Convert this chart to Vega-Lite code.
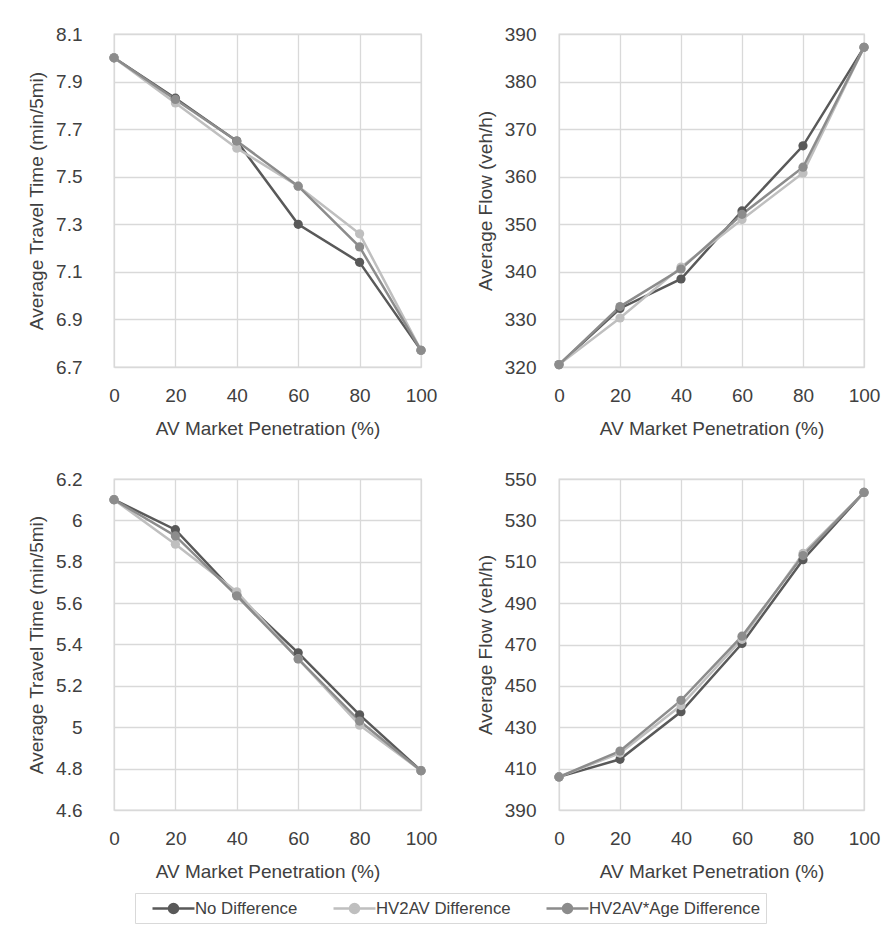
{
  "$schema": "https://vega.github.io/schema/vega-lite/v6.json",
  "background": "white",
  "padding": {"left": 26, "top": 24, "right": 0, "bottom": 0},
  "spacing": 30,
  "data": {
    "values": [
      {"p": "A", "s": "No Difference", "x": 0, "y": 8.0},
      {"p": "A", "s": "No Difference", "x": 20, "y": 7.83},
      {"p": "A", "s": "No Difference", "x": 40, "y": 7.65},
      {"p": "A", "s": "No Difference", "x": 60, "y": 7.3},
      {"p": "A", "s": "No Difference", "x": 80, "y": 7.14},
      {"p": "A", "s": "No Difference", "x": 100, "y": 6.77},
      {"p": "A", "s": "HV2AV Difference", "x": 0, "y": 8.0},
      {"p": "A", "s": "HV2AV Difference", "x": 20, "y": 7.81},
      {"p": "A", "s": "HV2AV Difference", "x": 40, "y": 7.62},
      {"p": "A", "s": "HV2AV Difference", "x": 60, "y": 7.46},
      {"p": "A", "s": "HV2AV Difference", "x": 80, "y": 7.26},
      {"p": "A", "s": "HV2AV Difference", "x": 100, "y": 6.77},
      {"p": "A", "s": "HV2AV*Age Difference", "x": 0, "y": 8.0},
      {"p": "A", "s": "HV2AV*Age Difference", "x": 20, "y": 7.825},
      {"p": "A", "s": "HV2AV*Age Difference", "x": 40, "y": 7.65},
      {"p": "A", "s": "HV2AV*Age Difference", "x": 60, "y": 7.46},
      {"p": "A", "s": "HV2AV*Age Difference", "x": 80, "y": 7.205},
      {"p": "A", "s": "HV2AV*Age Difference", "x": 100, "y": 6.77},
      {"p": "B", "s": "No Difference", "x": 0, "y": 320.5},
      {"p": "B", "s": "No Difference", "x": 20, "y": 332.3},
      {"p": "B", "s": "No Difference", "x": 40, "y": 338.5},
      {"p": "B", "s": "No Difference", "x": 60, "y": 352.8},
      {"p": "B", "s": "No Difference", "x": 80, "y": 366.5},
      {"p": "B", "s": "No Difference", "x": 100, "y": 387.2},
      {"p": "B", "s": "HV2AV Difference", "x": 0, "y": 320.5},
      {"p": "B", "s": "HV2AV Difference", "x": 20, "y": 330.3},
      {"p": "B", "s": "HV2AV Difference", "x": 40, "y": 341.0},
      {"p": "B", "s": "HV2AV Difference", "x": 60, "y": 351.0},
      {"p": "B", "s": "HV2AV Difference", "x": 80, "y": 360.8},
      {"p": "B", "s": "HV2AV Difference", "x": 100, "y": 387.2},
      {"p": "B", "s": "HV2AV*Age Difference", "x": 0, "y": 320.5},
      {"p": "B", "s": "HV2AV*Age Difference", "x": 20, "y": 332.7},
      {"p": "B", "s": "HV2AV*Age Difference", "x": 40, "y": 340.6},
      {"p": "B", "s": "HV2AV*Age Difference", "x": 60, "y": 352.1},
      {"p": "B", "s": "HV2AV*Age Difference", "x": 80, "y": 362.0},
      {"p": "B", "s": "HV2AV*Age Difference", "x": 100, "y": 387.2},
      {"p": "C", "s": "No Difference", "x": 0, "y": 6.1},
      {"p": "C", "s": "No Difference", "x": 20, "y": 5.955},
      {"p": "C", "s": "No Difference", "x": 40, "y": 5.64},
      {"p": "C", "s": "No Difference", "x": 60, "y": 5.36},
      {"p": "C", "s": "No Difference", "x": 80, "y": 5.06},
      {"p": "C", "s": "No Difference", "x": 100, "y": 4.79},
      {"p": "C", "s": "HV2AV Difference", "x": 0, "y": 6.1},
      {"p": "C", "s": "HV2AV Difference", "x": 20, "y": 5.885},
      {"p": "C", "s": "HV2AV Difference", "x": 40, "y": 5.655},
      {"p": "C", "s": "HV2AV Difference", "x": 60, "y": 5.33},
      {"p": "C", "s": "HV2AV Difference", "x": 80, "y": 5.01},
      {"p": "C", "s": "HV2AV Difference", "x": 100, "y": 4.79},
      {"p": "C", "s": "HV2AV*Age Difference", "x": 0, "y": 6.1},
      {"p": "C", "s": "HV2AV*Age Difference", "x": 20, "y": 5.925},
      {"p": "C", "s": "HV2AV*Age Difference", "x": 40, "y": 5.635},
      {"p": "C", "s": "HV2AV*Age Difference", "x": 60, "y": 5.33},
      {"p": "C", "s": "HV2AV*Age Difference", "x": 80, "y": 5.03},
      {"p": "C", "s": "HV2AV*Age Difference", "x": 100, "y": 4.79},
      {"p": "D", "s": "No Difference", "x": 0, "y": 406},
      {"p": "D", "s": "No Difference", "x": 20, "y": 414.5},
      {"p": "D", "s": "No Difference", "x": 40, "y": 437.5},
      {"p": "D", "s": "No Difference", "x": 60, "y": 470.5},
      {"p": "D", "s": "No Difference", "x": 80, "y": 511},
      {"p": "D", "s": "No Difference", "x": 100, "y": 543.5},
      {"p": "D", "s": "HV2AV Difference", "x": 0, "y": 406},
      {"p": "D", "s": "HV2AV Difference", "x": 20, "y": 417.5},
      {"p": "D", "s": "HV2AV Difference", "x": 40, "y": 440.5},
      {"p": "D", "s": "HV2AV Difference", "x": 60, "y": 472.5},
      {"p": "D", "s": "HV2AV Difference", "x": 80, "y": 514},
      {"p": "D", "s": "HV2AV Difference", "x": 100, "y": 543.5},
      {"p": "D", "s": "HV2AV*Age Difference", "x": 0, "y": 406},
      {"p": "D", "s": "HV2AV*Age Difference", "x": 20, "y": 418.5},
      {"p": "D", "s": "HV2AV*Age Difference", "x": 40, "y": 443},
      {"p": "D", "s": "HV2AV*Age Difference", "x": 60, "y": 474},
      {"p": "D", "s": "HV2AV*Age Difference", "x": 80, "y": 513},
      {"p": "D", "s": "HV2AV*Age Difference", "x": 100, "y": 543.5}
    ]
  },
  "vconcat": [
    {
      "bounds": "flush",
      "spacing": 138,
      "hconcat": [
        {
          "width": 307, "height": 333,
          "transform": [{"filter": "datum.p == 'A'"}],
          "mark": {"type": "line", "strokeWidth": 2.5, "point": {"filled": true, "size": 85, "opacity": 1}},
          "encoding": {
            "x": {"field": "x", "type": "quantitative", "scale": {"domain": [0, 100], "nice": false}, "axis": {"values": [0, 20, 40, 60, 80, 100], "title": "AV Market Penetration (%)"}},
            "y": {"field": "y", "type": "quantitative", "scale": {"domain": [6.7, 8.1], "nice": false, "zero": false}, "axis": {"values": [6.7, 6.9, 7.1, 7.3, 7.5, 7.7, 7.9, 8.1], "format": ".1f", "title": "Average Travel Time (min/5mi)", "labelPadding": 32}},
            "color": {"field": "s", "type": "nominal", "scale": {"domain": ["No Difference", "HV2AV Difference", "HV2AV*Age Difference"], "range": ["#595959", "#bfbfbf", "#8c8c8c"]},
              "legend": {"title": null, "orient": "none", "legendX": 21, "legendY": 859, "direction": "horizontal", "symbolType": "M-2.333,0L2.333,0M-0.5,0A0.5,0.5 0 1,0 0.5,0A0.5,0.5 0 1,0 -0.5,0Z", "symbolSize": 324, "symbolStrokeWidth": 2.5, "symbolOffset": 23, "labelFontSize": 16.8, "labelOffset": 11, "labelLimit": 400, "columnPadding": 23, "padding": 5, "strokeColor": "#d9d9d9", "labelColor": "#404040", "encode": {"symbols": {"update": {"fill": {"scale": "color", "field": "value"}, "stroke": {"scale": "color", "field": "value"}, "opacity": {"value": 1}}}}}}
          }
        },
        {
          "width": 305, "height": 333,
          "transform": [{"filter": "datum.p == 'B'"}],
          "mark": {"type": "line", "strokeWidth": 2.5, "point": {"filled": true, "size": 85, "opacity": 1}},
          "encoding": {
            "x": {"field": "x", "type": "quantitative", "scale": {"domain": [0, 100], "nice": false}, "axis": {"values": [0, 20, 40, 60, 80, 100], "title": "AV Market Penetration (%)"}},
            "y": {"field": "y", "type": "quantitative", "scale": {"domain": [320, 390], "nice": false, "zero": false}, "axis": {"values": [320, 330, 340, 350, 360, 370, 380, 390], "title": "Average Flow (veh/h)", "labelPadding": 23}},
            "color": {"field": "s", "type": "nominal"}
          }
        }
      ]
    },
    {
      "bounds": "flush",
      "spacing": 138,
      "hconcat": [
        {
          "width": 307, "height": 331,
          "transform": [{"filter": "datum.p == 'C'"}],
          "mark": {"type": "line", "strokeWidth": 2.5, "point": {"filled": true, "size": 85, "opacity": 1}},
          "encoding": {
            "x": {"field": "x", "type": "quantitative", "scale": {"domain": [0, 100], "nice": false}, "axis": {"values": [0, 20, 40, 60, 80, 100], "title": "AV Market Penetration (%)"}},
            "y": {"field": "y", "type": "quantitative", "scale": {"domain": [4.6, 6.2], "nice": false, "zero": false}, "axis": {"values": [4.6, 4.8, 5.0, 5.2, 5.4, 5.6, 5.8, 6.0, 6.2], "labelExpr": "toString(round(datum.value * 10) / 10)", "title": "Average Travel Time (min/5mi)", "labelPadding": 32}},
            "color": {"field": "s", "type": "nominal"}
          }
        },
        {
          "width": 305, "height": 331,
          "transform": [{"filter": "datum.p == 'D'"}],
          "mark": {"type": "line", "strokeWidth": 2.5, "point": {"filled": true, "size": 85, "opacity": 1}},
          "encoding": {
            "x": {"field": "x", "type": "quantitative", "scale": {"domain": [0, 100], "nice": false}, "axis": {"values": [0, 20, 40, 60, 80, 100], "title": "AV Market Penetration (%)"}},
            "y": {"field": "y", "type": "quantitative", "scale": {"domain": [390, 550], "nice": false, "zero": false}, "axis": {"values": [390, 410, 430, 450, 470, 490, 510, 530, 550], "title": "Average Flow (veh/h)", "labelPadding": 23}},
            "color": {"field": "s", "type": "nominal"}
          }
        }
      ]
    }
  ],
  "config": {
    "font": "Liberation Sans",
    "view": {"stroke": "#d9d9d9", "strokeWidth": 1.3},
    "axis": {"grid": true, "gridColor": "#d9d9d9", "gridWidth": 1.3, "domain": false, "ticks": false, "tickSize": 0, "labelFontSize": 19, "titleFontSize": 19, "labelColor": "#404040", "titleColor": "#404040", "titleFontWeight": "normal", "labelFlush": false, "labelOverlap": false},
    "axisX": {"labelPadding": 19, "titlePadding": 14},
    "axisY": {"titlePadding": 9}
  }
}
